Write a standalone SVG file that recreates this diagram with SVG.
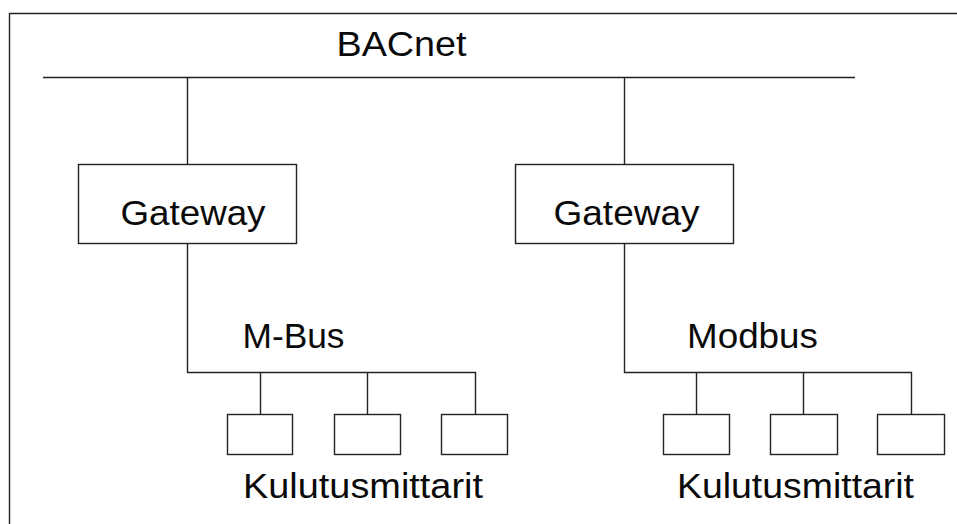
<svg xmlns="http://www.w3.org/2000/svg" width="957" height="524" viewBox="0 0 957 524">
  <style>
    .ln { fill: none; stroke: #222; stroke-width: 1.4; }
    .box { fill: #fff; stroke: #222; stroke-width: 1.4; }
    .lbl { font-family: "Liberation Sans", Arial, sans-serif; font-size: 35px; fill: #0a0a0a; }
  </style>
  <rect width="957" height="524" fill="#fff"/>

  <!-- outer frame (left and top edges) -->
  <path class="ln" d="M9.5,524 V13.5 H957"/>

  <!-- bus lines and drop connectors -->
  <g id="connectors">
    <path class="ln" d="M43,77.5 H855"/>
    <path class="ln" d="M187.5,77.5 V164.5"/>
    <path class="ln" d="M624.5,77.5 V164.5"/>
    <path class="ln" d="M187.5,243.5 V372.5 H475.5 V414.5"/>
    <path class="ln" d="M260.5,372.5 V414.5"/>
    <path class="ln" d="M367.5,372.5 V414.5"/>
    <path class="ln" d="M624.5,243.5 V372.5 H911.5 V414.5"/>
    <path class="ln" d="M696.5,372.5 V414.5"/>
    <path class="ln" d="M803.5,372.5 V414.5"/>
  </g>

  <g id="bacnet-label">
    <text class="lbl" x="336.5" y="56" textLength="130" lengthAdjust="spacingAndGlyphs">BACnet</text>
  </g>

  <g id="gateway-left">
    <rect class="box" x="78.5" y="164.5" width="218" height="79"/>
    <text class="lbl" x="120.5" y="225" textLength="145" lengthAdjust="spacingAndGlyphs">Gateway</text>
  </g>
  <g id="gateway-right">
    <rect class="box" x="515.5" y="164.5" width="218" height="79"/>
    <text class="lbl" x="553.5" y="225" textLength="146" lengthAdjust="spacingAndGlyphs">Gateway</text>
  </g>

  <g id="mbus-label">
    <text class="lbl" x="242.5" y="347.5" textLength="102" lengthAdjust="spacingAndGlyphs">M-Bus</text>
  </g>
  <g id="modbus-label">
    <text class="lbl" x="687" y="347.5" textLength="131" lengthAdjust="spacingAndGlyphs">Modbus</text>
  </g>

  <g id="meter-l1"><rect class="box" x="227.5" y="414.5" width="65" height="40"/></g>
  <g id="meter-l2"><rect class="box" x="334.5" y="414.5" width="66" height="40"/></g>
  <g id="meter-l3"><rect class="box" x="441.5" y="414.5" width="66" height="40"/></g>
  <g id="meter-r1"><rect class="box" x="663.5" y="414.5" width="66" height="40"/></g>
  <g id="meter-r2"><rect class="box" x="770.5" y="414.5" width="67" height="40"/></g>
  <g id="meter-r3"><rect class="box" x="877.5" y="414.5" width="67" height="40"/></g>

  <g id="meters-left-label">
    <text class="lbl" x="243" y="497.5" textLength="240" lengthAdjust="spacingAndGlyphs">Kulutusmittarit</text>
  </g>
  <g id="meters-right-label">
    <text class="lbl" x="677" y="497.5" textLength="237" lengthAdjust="spacingAndGlyphs">Kulutusmittarit</text>
  </g>
</svg>
